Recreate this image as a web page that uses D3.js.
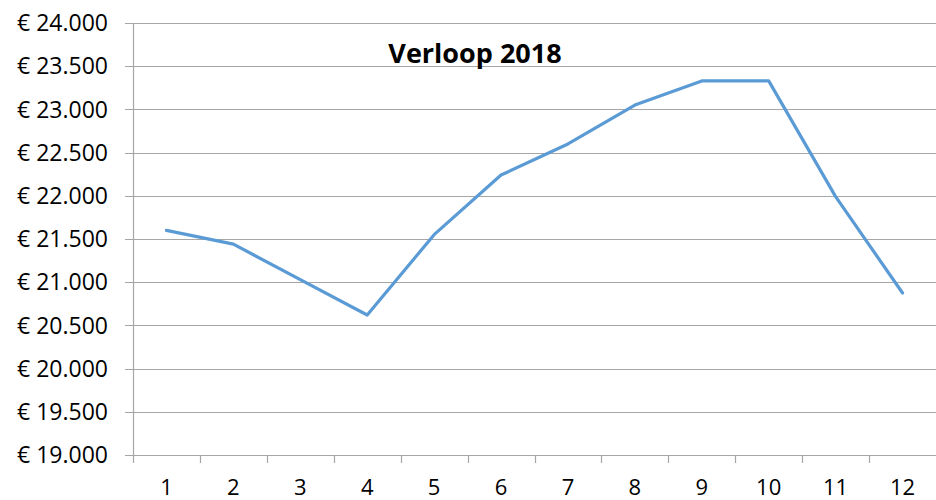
<!DOCTYPE html>
<html>
<head>
<meta charset="utf-8">
<script src="https://cdn.jsdelivr.net/npm/d3@7"></script>
<style>
body { margin: 0; background: #fff; }
text { font-family: "Open Sans", Lato, sans-serif; }
</style>
</head>
<body>
<svg id="chart" width="936" height="500"></svg>
<script>
// months and values (euro)
var months = [1, 2, 3, 4, 5, 6, 7, 8, 9, 10, 11, 12];
var values = [21600, 21440, 21030, 20620, 21550, 22240, 22600, 23050, 23330, 23330, 21990, 20875];
var yTicks = [19000, 19500, 20000, 20500, 21000, 21500, 22000, 22500, 23000, 23500, 24000];
var title = "Verloop 2018";

var svg = d3.select("#chart");
var margin = {left: 133, right: 0, top: 23, bottom: 45};
var w = 936 - margin.left - margin.right;
var h = 500 - margin.top - margin.bottom;

var x = d3.scaleBand().domain(months).range([margin.left, margin.left + w]);
var y = d3.scaleLinear().domain([19000, 24000]).range([margin.top + h, margin.top]);

var fmt = function(d) { return "€ " + (d / 1000).toFixed(3); };

// gridlines
svg.append("g").selectAll("line")
  .data(yTicks)
  .enter().append("line")
  .attr("x1", margin.left - 8)
  .attr("x2", margin.left + w)
  .attr("y1", d => Math.round(y(d)) + 0.5)
  .attr("y2", d => Math.round(y(d)) + 0.5)
  .attr("stroke", "#a6a6a6")
  .attr("stroke-width", 1.2);

// y labels
svg.append("g").selectAll("text")
  .data(yTicks)
  .enter().append("text")
  .attr("x", 108)
  .attr("y", d => y(d))
  .attr("dy", "0.36em")
  .attr("text-anchor", "end")
  .attr("font-size", 23)
  .attr("fill", "#000")
  .text(fmt);

// y axis line
svg.append("line")
  .attr("x1", margin.left + 0.5).attr("x2", margin.left + 0.5)
  .attr("y1", margin.top).attr("y2", margin.top + h + 8)
  .attr("stroke", "#a6a6a6").attr("stroke-width", 1.2);

// x tick marks
var edges = months.map(m => x(m) + x.bandwidth()).slice(0, 11);
svg.append("g").selectAll("line")
  .data(edges)
  .enter().append("line")
  .attr("x1", d => Math.round(d) + 0.5)
  .attr("x2", d => Math.round(d) + 0.5)
  .attr("y1", margin.top + h)
  .attr("y2", margin.top + h + 8)
  .attr("stroke", "#a6a6a6").attr("stroke-width", 1.2);

// x labels
svg.append("g").selectAll("text")
  .data(months)
  .enter().append("text")
  .attr("x", d => x(d) + x.bandwidth() / 2)
  .attr("y", 495)
  .attr("text-anchor", "middle")
  .attr("font-size", 22)
  .attr("fill", "#000")
  .text(d => d);

// line
var line = d3.line()
  .x((d, i) => x(months[i]) + x.bandwidth() / 2)
  .y(d => y(d));

svg.append("path")
  .datum(values)
  .attr("d", line)
  .attr("fill", "none")
  .attr("stroke", "#5b9bd5")
  .attr("stroke-width", 3.2)
  .attr("stroke-linejoin", "round")
  .attr("stroke-linecap", "round");

// title
svg.append("text")
  .attr("x", 475)
  .attr("y", 63)
  .attr("text-anchor", "middle")
  .attr("font-size", 27)
  .attr("font-weight", "bold")
  .attr("fill", "#000")
  .text(title);
</script>
</body>
</html>
